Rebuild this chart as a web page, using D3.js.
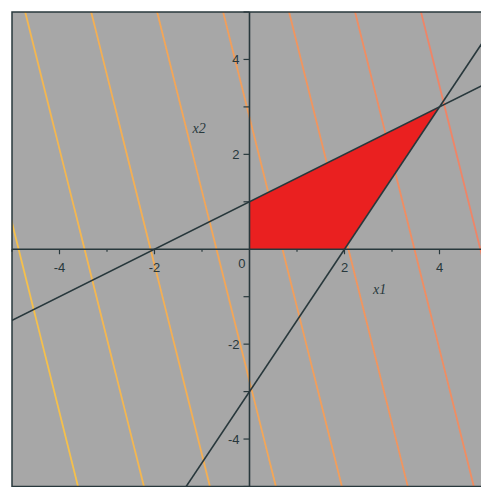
<!DOCTYPE html>
<html>
<head>
<meta charset="utf-8">
<script src="https://cdn.jsdelivr.net/npm/d3@7"></script>
<style>
  html, body { margin: 0; padding: 0; background: #ffffff; }
  svg { display: block; }
</style>
</head>
<body>
<svg id="chart" width="481" height="487"></svg>
<script>
// Plot window in (x1, x2)
const xDomain = [-5, 5];
const yDomain = [-5, 5];

// Objective z = 4*x1 + 1*x2 and the contour levels drawn for it
const objective = [4, 1];
const contourLevels = [-19.44, -13.89, -8.33, -2.78, 2.78, 8.33, 13.89, 19.44];

// Constraint boundary lines a*x1 + b*x2 = c, stored as [a, b, c]
const constraints = [
  [-1, 2, 2],   // x2 = x1/2 + 1
  [3, -2, 6]    // x2 = 1.5*x1 - 3
];

// Corners of the feasible region
const feasible = [[0, 0], [2, 0], [4, 3], [0, 1]];

// Axis ticks
const xMajor = [-4, -2, 2, 4];
const xMinor = [-5, -3, -1, 1, 3, 5];
const yTickAll = [-5, -4, -3, -2, -1, 1, 2, 3, 4, 5];
const yLabels = [-4, -2, 2, 4];

const svg = d3.select("#chart");

const x = d3.scaleLinear().domain(xDomain).range([12, 487]);
const y = d3.scaleLinear().domain(yDomain).range([486.5, 12]);

const inkColor = "#28383c";
const lowColor = "#f5c04c";
const highColor = "#f08466";
const colorOf = d3.scaleLinear()
  .domain([contourLevels[0], contourLevels[contourLevels.length - 1]])
  .range([lowColor, highColor])
  .interpolate(d3.interpolateRgb);

svg.append("defs").append("clipPath").attr("id", "plotClip")
  .append("rect")
  .attr("x", x(xDomain[0])).attr("y", y(yDomain[1]))
  .attr("width", x(xDomain[1]) - x(xDomain[0]))
  .attr("height", y(yDomain[0]) - y(yDomain[1]));

// gray plotting area
svg.append("rect")
  .attr("x", x(xDomain[0])).attr("y", y(yDomain[1]))
  .attr("width", x(xDomain[1]) - x(xDomain[0]))
  .attr("height", y(yDomain[0]) - y(yDomain[1]))
  .attr("fill", "#a7a7a7");

const plot = svg.append("g").attr("clip-path", "url(#plotClip)");

// contour lines of the objective: a*x1 + b*x2 = level, walked along x2
const line = d3.line().x(d => x(d[0])).y(d => y(d[1]));
const ySpan = [yDomain[0] - 1, yDomain[1] + 1];
plot.append("g").selectAll("path")
  .data(contourLevels)
  .join("path")
  .attr("d", c => line(ySpan.map(v => [(c - objective[1] * v) / objective[0], v])))
  .attr("fill", "none")
  .attr("stroke", c => colorOf(c))
  .attr("stroke-width", 1.8);

// feasible region
plot.append("path")
  .attr("d", line(feasible) + "Z")
  .attr("fill", "#ea2020")
  .attr("stroke", "none");

// constraint boundaries
const xSpan = [xDomain[0] - 1, xDomain[1] + 1];
plot.append("g").selectAll("path")
  .data(constraints)
  .join("path")
  .attr("d", k => line(xSpan.map(u => [u, (k[2] - k[0] * u) / k[1]])))
  .attr("fill", "none")
  .attr("stroke", inkColor)
  .attr("stroke-width", 1.6);

// frame
svg.append("rect")
  .attr("x", x(xDomain[0])).attr("y", y(yDomain[1]))
  .attr("width", x(xDomain[1]) - x(xDomain[0]))
  .attr("height", y(yDomain[0]) - y(yDomain[1]))
  .attr("fill", "none")
  .attr("stroke", inkColor)
  .attr("stroke-width", 1.5);

// axes through the origin
const axes = svg.append("g").attr("stroke", inkColor);
axes.append("line")
  .attr("x1", x(xDomain[0])).attr("x2", x(xDomain[1]))
  .attr("y1", y(0)).attr("y2", y(0))
  .attr("stroke-width", 1.6);
axes.append("line")
  .attr("x1", x(0)).attr("x2", x(0))
  .attr("y1", y(yDomain[1])).attr("y2", y(yDomain[0]))
  .attr("stroke-width", 1.6);

axes.selectAll(".xmaj").data(xMajor).join("line")
  .attr("x1", d => x(d)).attr("x2", d => x(d))
  .attr("y1", y(0)).attr("y2", y(0) + 5)
  .attr("stroke-width", 1.2);
axes.selectAll(".xmin").data(xMinor).join("line")
  .attr("x1", d => x(d)).attr("x2", d => x(d))
  .attr("y1", y(0)).attr("y2", y(0) + 2.5)
  .attr("stroke-width", 1.2);
axes.selectAll(".ytk").data(yTickAll).join("line")
  .attr("x1", x(0) - 6).attr("x2", x(0))
  .attr("y1", d => y(d)).attr("y2", d => y(d))
  .attr("stroke-width", 1.2);

const labelFont = "'Liberation Sans', Arial, sans-serif";
const labels = svg.append("g")
  .attr("font-family", labelFont)
  .attr("font-size", 13)
  .attr("fill", inkColor);

labels.selectAll(".xl").data(xMajor).join("text")
  .attr("x", d => x(d)).attr("y", y(0) + 23)
  .attr("text-anchor", "middle")
  .text(d => d);

labels.append("text")
  .attr("x", x(0) - 4).attr("y", y(0) + 19)
  .attr("text-anchor", "end")
  .text("0");

labels.selectAll(".yl").data(yLabels).join("text")
  .attr("x", x(0) - 10).attr("y", d => y(d) + 5)
  .attr("text-anchor", "end")
  .text(d => d);

// axis titles
const titles = svg.append("g")
  .attr("font-family", "'Liberation Serif', 'Times New Roman', serif")
  .attr("font-style", "italic")
  .attr("font-size", 14)
  .attr("fill", inkColor);
titles.append("text").attr("x", x(2.6)).attr("y", y(-0.95)).text("x1");
titles.append("text").attr("x", x(-1.2)).attr("y", y(2.45)).text("x2");
</script>
</body>
</html>
